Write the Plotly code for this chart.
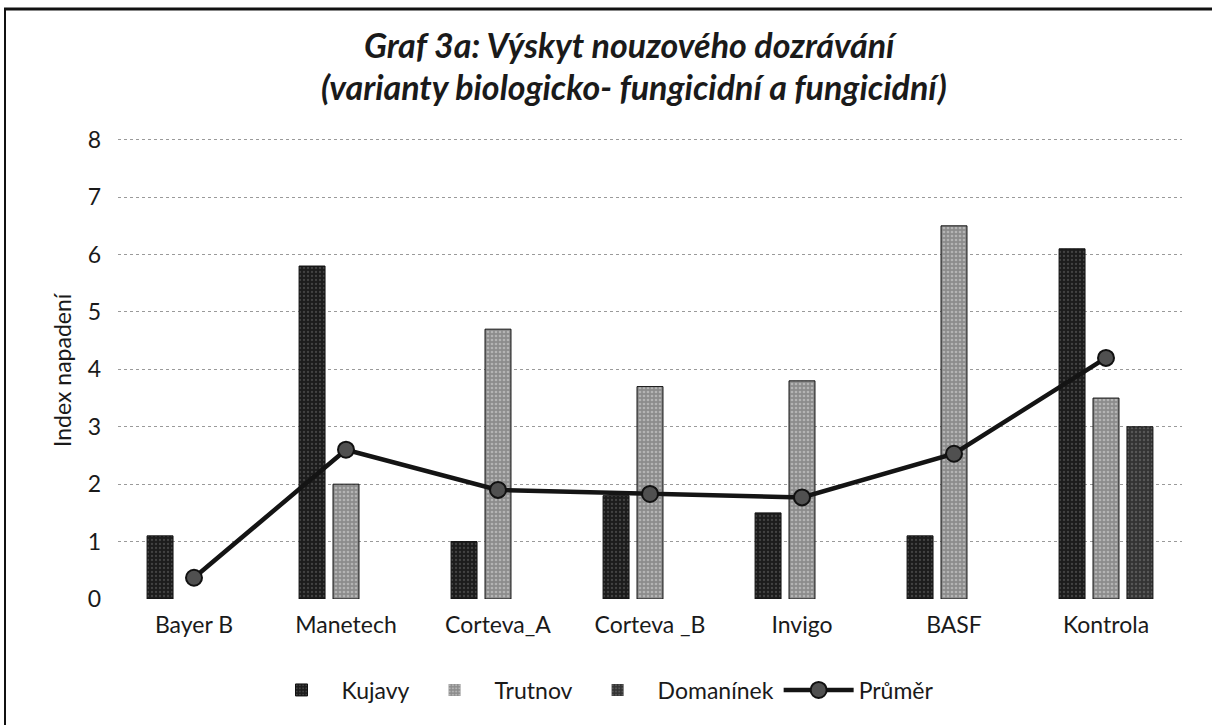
import plotly.graph_objects as go

categories = ["Bayer B", "Manetech", "Corteva_A", "Corteva _B", "Invigo", "BASF", "Kontrola"]
kujavy = [1.1, 5.8, 1.0, 1.8, 1.5, 1.1, 6.1]
trutnov = [0, 2.0, 4.7, 3.7, 3.8, 6.5, 3.5]
domaninek = [0, 0, 0, 0, 0, 0, 3.0]
prumer = [0.37, 2.6, 1.9, 1.83, 1.77, 2.53, 4.2]
y_ticks = [0, 1, 2, 3, 4, 5, 6, 7, 8]

W, H = 1212, 725
Y_TOP = 8.03
L, R, T, B = 118, 30, 138, 126
PW, PH = W - L - R, H - T - B

def px_x(px):
    return (px - L) / PW

def px_y(py):
    return (H - B - py) / PH

FONT = "Lato"
TXT = "#1a1a1a"

fig = go.Figure()

def bar(name, vals, bg, fg, solidity):
    fig.add_trace(go.Bar(
        name=name, x=categories, y=vals,
        marker=dict(color=bg,
                    line=dict(color="#111111", width=[1 if v else 0 for v in vals]),
                    pattern=dict(shape=".", fgcolor=fg, size=4, solidity=solidity)),
    ))

bar("Kujavy", kujavy, "#1c1c1c", "#6a6a6a", 0.25)
bar("Trutnov", trutnov, "#8c8c8c", "#dcdcdc", 0.35)
bar("Domanínek", domaninek, "#333333", "#7a7a7a", 0.3)

fig.add_trace(go.Scatter(
    name="Průměr", x=categories, y=prumer, mode="lines+markers",
    line=dict(color="#141414", width=4.5),
    marker=dict(symbol="circle", size=16, color="#505050",
                line=dict(color="#111111", width=2)),
))

fig.update_layout(
    width=W, height=H,
    margin=dict(l=L, r=R, t=T, b=B),
    paper_bgcolor="white", plot_bgcolor="white",
    barmode="group", bargap=0.33, bargroupgap=0.235,
    font=dict(family=FONT, size=23, color=TXT),
    showlegend=True,
    legend=dict(orientation="h", x=px_x(600), y=px_y(690), xanchor="center",
                yanchor="middle", font=dict(size=23, color=TXT),
                itemwidth=70, tracegroupgap=0, bgcolor="rgba(0,0,0,0)"),
    xaxis=dict(showgrid=False, zeroline=False, showline=False, ticks="",
               tickfont=dict(size=23, color=TXT), ticklabelstandoff=10),
    yaxis=dict(range=[0, Y_TOP], tickvals=y_ticks, showgrid=True,
               gridcolor="#9a9a9a", griddash="dot", gridwidth=1,
               zeroline=False, showline=False, ticks="",
               tickfont=dict(size=23, color=TXT), ticklabelstandoff=16),
    annotations=[
        dict(text="<b><i>Graf 3a: Výskyt nouzového dozrávání</i></b>", xref="paper", yref="paper",
             x=px_x(631), y=px_y(44), xanchor="center", yanchor="middle", showarrow=False,
             font=dict(size=34, color=TXT, family=FONT)),
        dict(text="<b><i>(varianty biologicko- fungicidní a fungicidní)</i></b>", xref="paper", yref="paper",
             x=px_x(634), y=px_y(87), xanchor="center", yanchor="middle", showarrow=False,
             font=dict(size=34, color=TXT, family=FONT)),
        dict(text="Index napadení", xref="paper", yref="paper", textangle=-90,
             x=px_x(62), y=px_y(370), xanchor="center", yanchor="middle", showarrow=False,
             font=dict(size=23, color=TXT, family=FONT)),
    ],
    shapes=[
        dict(type="line", xref="paper", yref="paper", x0=px_x(4), x1=px_x(W), y0=px_y(9), y1=px_y(9),
             line=dict(color="#111111", width=3)),
        dict(type="line", xref="paper", yref="paper", x0=px_x(5), x1=px_x(5), y0=px_y(9), y1=px_y(H),
             line=dict(color="#111111", width=2)),
    ],
)

fig.write_html("out.html", config={"displayModeBar": False},
               post_script="document.body.style.margin='0';document.body.style.padding='0';")
